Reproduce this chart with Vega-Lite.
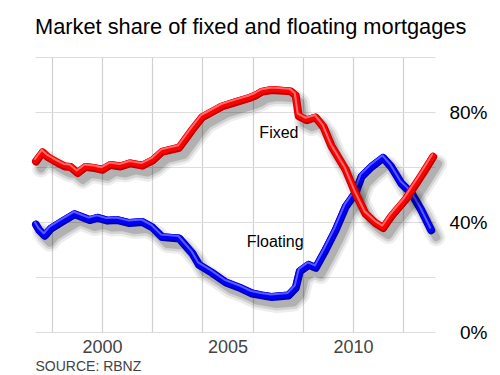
{
  "$schema": "https://vega.github.io/schema/vega-lite/v6.json",
  "width": 400,
  "height": 275,
  "autosize": "none",
  "padding": {"left": 35, "top": 57, "right": 65, "bottom": 43},
  "background": "white",
  "config": {"view": {"stroke": null}, "font": "Liberation Sans"},
  "title": {
    "text": "Market share of fixed and floating mortgages",
    "anchor": "start",
    "frame": "group",
    "fontSize": 21.8,
    "fontWeight": "normal",
    "font": "Liberation Sans",
    "color": "#000000",
    "offset": 18
  },
  "datasets": {
    "shares": [
      {"series": "Floating", "year": 1997.37, "share": 39},
      {"series": "Floating", "year": 1997.5, "share": 37},
      {"series": "Floating", "year": 1997.72, "share": 35},
      {"series": "Floating", "year": 1997.96, "share": 37.5},
      {"series": "Floating", "year": 1998.36, "share": 39.8},
      {"series": "Floating", "year": 1998.91, "share": 42.8},
      {"series": "Floating", "year": 1999.15, "share": 42},
      {"series": "Floating", "year": 1999.51, "share": 40.7},
      {"series": "Floating", "year": 1999.83, "share": 41.5},
      {"series": "Floating", "year": 2000.22, "share": 40.5},
      {"series": "Floating", "year": 2000.62, "share": 40.7},
      {"series": "Floating", "year": 2001.1, "share": 39.6},
      {"series": "Floating", "year": 2001.61, "share": 40},
      {"series": "Floating", "year": 2002.01, "share": 38},
      {"series": "Floating", "year": 2002.4, "share": 34.5},
      {"series": "Floating", "year": 2003.08, "share": 34},
      {"series": "Floating", "year": 2003.6, "share": 28.6},
      {"series": "Floating", "year": 2003.87, "share": 24.4},
      {"series": "Floating", "year": 2004.39, "share": 21.5},
      {"series": "Floating", "year": 2004.94, "share": 18},
      {"series": "Floating", "year": 2005.46, "share": 16.2},
      {"series": "Floating", "year": 2005.98, "share": 14},
      {"series": "Floating", "year": 2006.37, "share": 13.3},
      {"series": "Floating", "year": 2006.77, "share": 12.7},
      {"series": "Floating", "year": 2007.44, "share": 13.3},
      {"series": "Floating", "year": 2007.72, "share": 16},
      {"series": "Floating", "year": 2007.88, "share": 22},
      {"series": "Floating", "year": 2008.24, "share": 24.4},
      {"series": "Floating", "year": 2008.52, "share": 23.3},
      {"series": "Floating", "year": 2008.91, "share": 29.8},
      {"series": "Floating", "year": 2009.31, "share": 37},
      {"series": "Floating", "year": 2009.71, "share": 45.5},
      {"series": "Floating", "year": 2010.1, "share": 50.5},
      {"series": "Floating", "year": 2010.34, "share": 56.4},
      {"series": "Floating", "year": 2010.74, "share": 60},
      {"series": "Floating", "year": 2011.21, "share": 63.3},
      {"series": "Floating", "year": 2011.53, "share": 60},
      {"series": "Floating", "year": 2011.93, "share": 54},
      {"series": "Floating", "year": 2012.33, "share": 50.5},
      {"series": "Floating", "year": 2012.72, "share": 44.4},
      {"series": "Floating", "year": 2013.12, "share": 37},
      {"series": "Fixed", "year": 1997.37, "share": 62},
      {"series": "Fixed", "year": 1997.64, "share": 65.3},
      {"series": "Fixed", "year": 1997.84, "share": 63.6},
      {"series": "Fixed", "year": 1998.24, "share": 61.5},
      {"series": "Fixed", "year": 1998.52, "share": 60.2},
      {"series": "Fixed", "year": 1998.75, "share": 60},
      {"series": "Fixed", "year": 1999.03, "share": 57.8},
      {"series": "Fixed", "year": 1999.35, "share": 60},
      {"series": "Fixed", "year": 1999.71, "share": 59.6},
      {"series": "Fixed", "year": 2000.02, "share": 59},
      {"series": "Fixed", "year": 2000.34, "share": 60.7},
      {"series": "Fixed", "year": 2000.74, "share": 60.2},
      {"series": "Fixed", "year": 2001.13, "share": 61.3},
      {"series": "Fixed", "year": 2001.61, "share": 60.5},
      {"series": "Fixed", "year": 2002.01, "share": 62.3},
      {"series": "Fixed", "year": 2002.4, "share": 65.5},
      {"series": "Fixed", "year": 2003.08, "share": 67},
      {"series": "Fixed", "year": 2003.6, "share": 73.5},
      {"series": "Fixed", "year": 2003.99, "share": 78},
      {"series": "Fixed", "year": 2004.39, "share": 80},
      {"series": "Fixed", "year": 2004.79, "share": 82},
      {"series": "Fixed", "year": 2005.34, "share": 83.6},
      {"series": "Fixed", "year": 2005.86, "share": 85},
      {"series": "Fixed", "year": 2006.13, "share": 86},
      {"series": "Fixed", "year": 2006.37, "share": 87.3},
      {"series": "Fixed", "year": 2006.77, "share": 88},
      {"series": "Fixed", "year": 2007.52, "share": 87.5},
      {"series": "Fixed", "year": 2007.72, "share": 86},
      {"series": "Fixed", "year": 2007.84, "share": 78.5},
      {"series": "Fixed", "year": 2008.16, "share": 77},
      {"series": "Fixed", "year": 2008.52, "share": 78},
      {"series": "Fixed", "year": 2008.83, "share": 74.5},
      {"series": "Fixed", "year": 2009.15, "share": 67.5},
      {"series": "Fixed", "year": 2009.71, "share": 59},
      {"series": "Fixed", "year": 2010.1, "share": 50.5},
      {"series": "Fixed", "year": 2010.5, "share": 43},
      {"series": "Fixed", "year": 2010.9, "share": 39.6},
      {"series": "Fixed", "year": 2011.21, "share": 37.8},
      {"series": "Fixed", "year": 2011.53, "share": 42},
      {"series": "Fixed", "year": 2012.09, "share": 48},
      {"series": "Fixed", "year": 2012.6, "share": 55},
      {"series": "Fixed", "year": 2012.88, "share": 59},
      {"series": "Fixed", "year": 2013.2, "share": 63.7}
    ],
    "labels": [
      {"label": "Fixed", "year": 2007.05, "share": 72.4},
      {"label": "Floating", "year": 2006.9, "share": 32.7}
    ]
  },
  "encoding": {
    "x": {
      "field": "year",
      "type": "quantitative",
      "scale": {"domain": [1997.33, 2013.27], "nice": false, "zero": false},
      "axis": {
        "title": "SOURCE: RBNZ",
        "titleFont": "Liberation Sans",
        "titleFontSize": 14,
        "titleFontWeight": "normal",
        "titleColor": "#444444",
        "titleAnchor": "start",
        "titleAlign": "left",
        "titleBaseline": "alphabetic",
        "titleX": 0,
        "titleY": 38,
        "values": [1998, 2000, 2002, 2004, 2005, 2006, 2008, 2010, 2012],
        "labelExpr": "(datum.value == 2000 || datum.value == 2005 || datum.value == 2010) ? '' + datum.value : ''",
        "labelFont": "Liberation Sans",
        "labelFontSize": 18,
        "labelColor": "#444444",
        "labelPadding": 6,
        "labelFlush": false,
        "labelOverlap": false,
        "ticks": false,
        "domain": false,
        "grid": true,
        "gridColor": "#d0d0d0",
        "gridWidth": 1.2,
        "gridOpacity": {"condition": {"test": "datum.value == 2005", "value": 0}, "value": 1}
      }
    },
    "y": {
      "field": "share",
      "type": "quantitative",
      "scale": {"domain": [0, 100], "nice": false},
      "axis": {
        "orient": "right",
        "title": null,
        "values": [0, 20, 40, 60, 80, 100],
        "labelExpr": "datum.value % 40 == 0 ? datum.value + '%' : ''",
        "labelFont": "Liberation Sans",
        "labelFontSize": 19,
        "labelColor": "#000000",
        "labelAlign": "right",
        "labelBaseline": "middle",
        "labelPadding": 52,
        "ticks": false,
        "domain": false,
        "grid": true,
        "gridColor": "#dddddd",
        "gridWidth": 1.2
      }
    }
  },
  "layer": [
    {
      "data": {"name": "shares"},
      "transform": [{"filter": "datum.series == 'Floating'"}],
      "layer": [
        {"mark": {"type": "line", "color": "#000000", "opacity": 0.07, "strokeWidth": 18, "strokeJoin": "round", "strokeCap": "round", "xOffset": 5, "yOffset": 7}, "encoding": {}},
        {"mark": {"type": "line", "color": "#000000", "opacity": 0.11, "strokeWidth": 13, "strokeJoin": "round", "strokeCap": "round", "xOffset": 5, "yOffset": 7}, "encoding": {}},
        {"mark": {"type": "line", "color": "#000000", "opacity": 0.16, "strokeWidth": 8, "strokeJoin": "round", "strokeCap": "round", "xOffset": 5, "yOffset": 7}, "encoding": {}},
        {"mark": {"type": "line", "color": "#0000b0", "strokeWidth": 8, "strokeJoin": "round", "strokeCap": "round"}, "encoding": {}},
        {"mark": {"type": "line", "color": "#0000ff", "strokeWidth": 6, "strokeJoin": "round", "strokeCap": "round", "xOffset": -0.5, "yOffset": -1}, "encoding": {}},
        {"mark": {"type": "line", "color": "#5a5aff", "strokeWidth": 2, "strokeJoin": "round", "strokeCap": "round", "xOffset": -1, "yOffset": -2.5}, "encoding": {}}
      ]
    },
    {
      "data": {"name": "shares"},
      "transform": [{"filter": "datum.series == 'Fixed'"}],
      "layer": [
        {"mark": {"type": "line", "color": "#000000", "opacity": 0.07, "strokeWidth": 18, "strokeJoin": "round", "strokeCap": "round", "xOffset": 5, "yOffset": 7}, "encoding": {}},
        {"mark": {"type": "line", "color": "#000000", "opacity": 0.11, "strokeWidth": 13, "strokeJoin": "round", "strokeCap": "round", "xOffset": 5, "yOffset": 7}, "encoding": {}},
        {"mark": {"type": "line", "color": "#000000", "opacity": 0.16, "strokeWidth": 8, "strokeJoin": "round", "strokeCap": "round", "xOffset": 5, "yOffset": 7}, "encoding": {}},
        {"mark": {"type": "line", "color": "#c00000", "strokeWidth": 8, "strokeJoin": "round", "strokeCap": "round"}, "encoding": {}},
        {"mark": {"type": "line", "color": "#ff0000", "strokeWidth": 6, "strokeJoin": "round", "strokeCap": "round", "xOffset": -0.5, "yOffset": -1}, "encoding": {}},
        {"mark": {"type": "line", "color": "#ff6a6a", "strokeWidth": 2, "strokeJoin": "round", "strokeCap": "round", "xOffset": -1, "yOffset": -2.5}, "encoding": {}}
      ]
    },
    {
      "data": {"name": "labels"},
      "mark": {"type": "text", "font": "Liberation Sans", "fontSize": 16, "color": "#000000", "align": "center", "baseline": "middle"},
      "encoding": {"text": {"field": "label", "type": "nominal"}}
    }
  ]
}
